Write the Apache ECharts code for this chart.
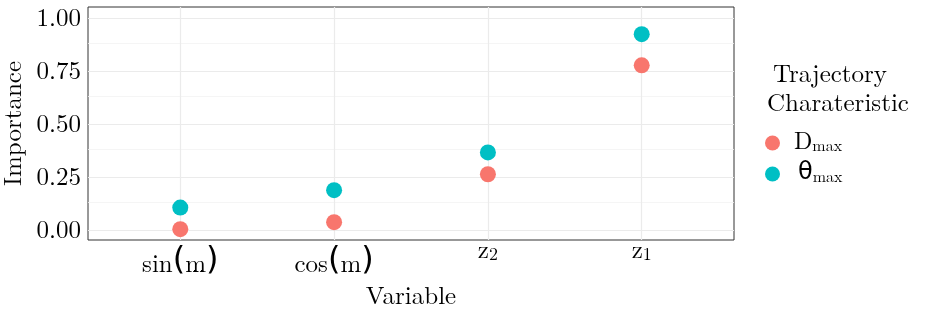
<!DOCTYPE html>
<html>
<head>
<meta charset="utf-8">
<script src="https://cdn.jsdelivr.net/npm/echarts@6/dist/echarts.min.js"></script>
<style>html,body{margin:0;padding:0;background:#fff}#c{width:930px;height:317px}</style>
</head>
<body>
<div id="c"></div>
<script>
var categories = ['sin(m)', 'cos(m)', 'z2', 'z1'];
var dmaxValues = [0.004, 0.037, 0.263, 0.777];
var thetaValues = [0.106, 0.188, 0.366, 0.924];
var yTicks = [0, 0.25, 0.5, 0.75, 1.0];
var yMinorTicks = [0.125, 0.375, 0.625, 0.875];
var xTicks = [0, 1, 2, 3];

var SERIF = '"Latin Modern Roman","CMU Serif","Liberation Serif","DejaVu Serif",serif';
var SANS = '"DejaVu Sans","Noto Sans",sans-serif';

var chart = echarts.init(document.getElementById('c'), null, {renderer: 'canvas'});

function labelFor(v) {
  var name = categories[v];
  if (name === 'sin(m)') return '{fn|sin}{par|(}{fn|m}{par|)}';
  if (name === 'cos(m)') return '{fn|cos}{par|(}{fn|m}{par|)}';
  if (name === 'z2') return '{zb|z}{sub|2}';
  if (name === 'z1') return '{zb|z}{sub|1}';
  return name;
}

var gridLines = [];
yTicks.forEach(function (v) { gridLines.push({yAxis: v, lineStyle: {color: '#EBEBEB', width: 1.2, type: 'solid'}}); });
yMinorTicks.forEach(function (v) { gridLines.push({yAxis: v, lineStyle: {color: '#F2F2F2', width: 0.8, type: 'solid'}}); });
xTicks.forEach(function (v) { gridLines.push({xAxis: v, lineStyle: {color: '#EBEBEB', width: 1.2, type: 'solid'}}); });

function pts(vals) { return vals.map(function (v, i) { return [i, v]; }); }

var option = {
  animation: false,
  backgroundColor: '#fff',
  grid: {left: 88, right: 196, top: 7, bottom: 77, show: true, borderColor: '#333', borderWidth: 1, backgroundColor: '#fff', containLabel: false, outerBoundsMode: 'none'},
  xAxis: {
    type: 'value', min: -0.6, max: 3.6,
    name: 'Variable', nameLocation: 'middle', nameGap: 44,
    nameTextStyle: {fontFamily: SERIF, fontSize: 25, color: '#000'},
    axisLine: {show: false},
    splitLine: {show: false},
    axisTick: {show: true, customValues: xTicks, length: 4, lineStyle: {color: '#333', width: 1}},
    axisLabel: {
      customValues: xTicks, margin: 5, color: '#000',
      formatter: function (v) { return labelFor(Math.round(v)); },
      rich: {
        fn: {fontFamily: SERIF, fontSize: 25, color: '#000', lineHeight: 32, verticalAlign: 'bottom'},
        par: {fontFamily: SANS, fontSize: 32, color: '#000', lineHeight: 32, verticalAlign: 'bottom'},
        zb: {fontFamily: SERIF, fontSize: 25, color: '#000', lineHeight: 18, verticalAlign: 'bottom'},
        sub: {fontFamily: SERIF, fontSize: 18, color: '#000', lineHeight: 10, verticalAlign: 'bottom'}
      }
    }
  },
  yAxis: {
    type: 'value', min: -0.047, max: 1.052,
    name: 'Importance', nameLocation: 'middle', nameGap: 57,
    nameTextStyle: {fontFamily: SERIF, fontSize: 25, color: '#000'},
    axisLine: {show: false},
    splitLine: {show: false},
    axisTick: {show: true, customValues: yTicks, length: 4, lineStyle: {color: '#333', width: 1}},
    axisLabel: {
      customValues: yTicks, margin: 7, fontFamily: SERIF, fontSize: 25, color: '#000',
      formatter: function (v) { return v.toFixed(2); }
    }
  },
  legend: {
    orient: 'vertical', left: 760, top: 125, itemWidth: 15, itemHeight: 15, itemGap: 7,
    icon: 'circle',
    data: ['Dmax', 'thetamax'],
    formatter: function (name) {
      return name === 'Dmax' ? '{big|D}{sub|max}' : '{th|θ}{sub|max}';
    },
    textStyle: {
      fontFamily: SERIF, color: '#000',
      rich: {
        big: {fontFamily: SERIF, fontSize: 24, color: '#000', padding: [0, 0, 0, 9], verticalAlign: 'bottom', lineHeight: 22},
        th: {fontFamily: SANS, fontSize: 24, color: '#000', padding: [0, 0, 0, 13], verticalAlign: 'bottom', lineHeight: 22},
        sub: {fontFamily: SERIF, fontSize: 16, color: '#000', verticalAlign: 'bottom', lineHeight: 12}
      }
    }
  },
  graphic: [
    {type: 'text', left: 773, top: 62, style: {text: 'Trajectory', font: '25px ' + SERIF, fill: '#000'}},
    {type: 'text', left: 767, top: 91, style: {text: 'Charateristic', font: '25px ' + SERIF, fill: '#000'}}
  ],
  series: [
    {
      type: 'line', data: [], silent: true, z: 1,
      markLine: {z: 1, silent: true, symbol: 'none', label: {show: false}, data: gridLines, animation: false}
    },
    {name: 'Dmax', type: 'scatter', data: pts(dmaxValues), symbolSize: 16, z: 3, itemStyle: {color: '#F8766D', opacity: 1}},
    {name: 'thetamax', type: 'scatter', data: pts(thetaValues), symbolSize: 16, z: 3, itemStyle: {color: '#00BFC4', opacity: 1}}
  ]
};
chart.setOption(option);
</script>
</body>
</html>
